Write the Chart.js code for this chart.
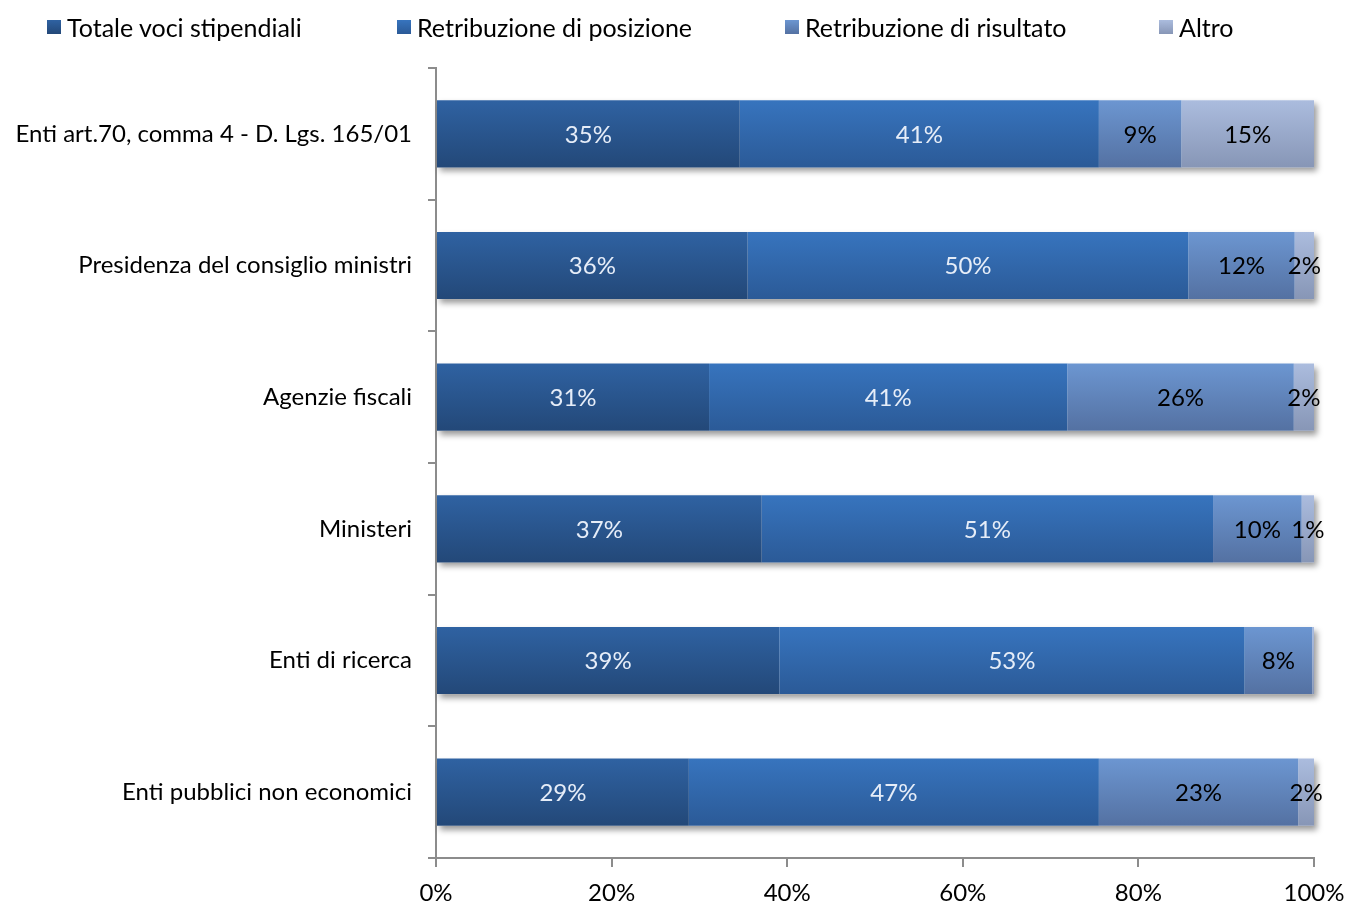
<!DOCTYPE html>
<html>
<head>
<meta charset="utf-8">
<script src="https://cdn.jsdelivr.net/npm/chart.js@4/dist/chart.umd.min.js"></script>
<style>
  body { margin: 0; background: #fff; font-family: Lato, sans-serif; }
  #wrap { position: relative; width: 1348px; height: 906px; }
  #chart { position: absolute; left: 0; top: 0; }
  .leg { position: absolute; top: 12px; display: flex; align-items: center; font-size: 25px; color: #000; white-space: nowrap; }
  .leg i { display: inline-block; width: 14px; height: 14px; margin-right: 6px; }
</style>
</head>
<body>
<div id="wrap">
  <canvas id="chart" width="1348" height="906"></canvas>
  <div id="legend"></div>
</div>
<script>
const categories = [
    'Enti art.70, comma 4 - D. Lgs. 165/01',
    'Presidenza del consiglio ministri',
    'Agenzie fiscali',
    'Ministeri',
    'Enti di ricerca',
    'Enti pubblici non economici'
];
const seriesNames = ['Totale voci stipendiali', 'Retribuzione di posizione', 'Retribuzione di risultato', 'Altro'];
const totaleVoci    = [34.6, 35.5, 31.1, 37.1, 39.1, 28.8];
const retPosizione  = [40.9, 50.2, 40.8, 51.4, 53.0, 46.7];
const retRisultato  = [9.4, 12.1, 25.8, 10.1, 7.7, 22.7];
const altro         = [15.1, 2.2, 2.3, 1.4, 0.2, 1.8];
const xTicks = [0, 20, 40, 60, 80, 100];

const topColors = ['#2f62a2', '#3774be', '#6c96d1', '#abbcde'];
const bottomColors = ['#234878', '#2b5a97', '#5471a2', '#8796b6'];
const labelColors = ['#e6edf8', '#e6edf8', '#000', '#000'];
const barPct = 0.51;
const fontFamily = 'Lato, sans-serif';

function barGradient(ctx) {
    const chart = ctx.chart;
    const ds = ctx.datasetIndex;
    const y = chart.scales && chart.scales.y;
    if (!chart.chartArea || !y || ctx.dataIndex === undefined) return topColors[ds];
    const cy = y.getPixelForValue(ctx.dataIndex);
    const h = (chart.chartArea.height / categories.length) * barPct / 2;
    const g = chart.ctx.createLinearGradient(0, cy - h, 0, cy + h);
    g.addColorStop(0, topColors[ds]);
    g.addColorStop(1, bottomColors[ds]);
    return g;
}

// one soft shadow behind each whole stacked bar
const shadowPlugin = {
    id: 'shadow',
    beforeDatasetsDraw(chart) {
        const c = chart.ctx;
        const first = chart.getDatasetMeta(0).data;
        const last = chart.getDatasetMeta(chart.data.datasets.length - 1).data;
        c.save();
        c.shadowColor = 'rgba(0,0,0,0.4)';
        c.shadowBlur = 6;
        c.shadowOffsetX = 3;
        c.shadowOffsetY = 4;
        c.fillStyle = '#fff';
        first.forEach((el, j) => {
            const right = last[j].x;
            c.fillRect(el.base, el.y - el.height / 2, right - el.base, el.height);
        });
        c.restore();
    }
};

const labelPlugin = {
    id: 'barLabels',
    afterDatasetsDraw(chart) {
        const c = chart.ctx;
        c.save();
        c.font = '24px ' + fontFamily;
        c.textAlign = 'center';
        c.textBaseline = 'middle';
        chart.data.datasets.forEach((ds, i) => {
            chart.getDatasetMeta(i).data.forEach((el, j) => {
                const v = ds.data[j];
                if (v < 0.5) return;
                c.fillStyle = labelColors[i];
                c.fillText(Math.round(v) + '%', (el.x + el.base) / 2, el.y + 1);
            });
        });
        c.restore();
    }
};

const seriesData = [totaleVoci, retPosizione, retRisultato, altro];

new Chart(document.getElementById('chart').getContext('2d'), {
    type: 'bar',
    data: {
        labels: categories,
        datasets: seriesData.map((d, i) => ({
            label: seriesNames[i],
            data: d,
            backgroundColor: barGradient,
            borderWidth: 0,
            categoryPercentage: 1,
            barPercentage: barPct
        }))
    },
    options: {
        indexAxis: 'y',
        responsive: false,
        animation: false,
        layout: { padding: { top: 68, right: 34, left: 0, bottom: 0 } },
        plugins: {
            legend: { display: false },
            tooltip: { enabled: false }
        },
        scales: {
            x: {
                stacked: true,
                min: 0,
                max: 100,
                afterBuildTicks: s => { s.ticks = xTicks.map(v => ({ value: v })); },
                afterFit: s => { s.height = 48; s.paddingLeft = 0; s.paddingRight = 0; },
                border: { color: '#8c8c8c', width: 2 },
                grid: { drawOnChartArea: false, drawTicks: true, tickLength: 9, color: '#8c8c8c', lineWidth: 2 },
                ticks: {
                    padding: 12,
                    color: '#000',
                    font: { family: fontFamily, size: 24 },
                    callback: v => v + '%'
                }
            },
            y: {
                stacked: true,
                afterFit: s => { s.width = 436; },
                border: { color: '#8c8c8c', width: 2 },
                grid: { drawOnChartArea: false, drawTicks: true, tickLength: 8, color: '#8c8c8c', lineWidth: 2, offset: true },
                ticks: {
                    padding: 16,
                    color: '#000',
                    font: { family: fontFamily, size: 24 }
                }
            }
        }
    },
    plugins: [shadowPlugin, labelPlugin]
});

// legend
const legendLeft = [47, 397, 785, 1159];
const legendEl = document.getElementById('legend');
seriesNames.forEach((name, i) => {
    const d = document.createElement('div');
    d.className = 'leg';
    d.style.left = legendLeft[i] + 'px';
    d.innerHTML = `<i style="background:linear-gradient(${topColors[i]}, ${bottomColors[i]})"></i>${name}`;
    legendEl.appendChild(d);
});
</script>
</body>
</html>
